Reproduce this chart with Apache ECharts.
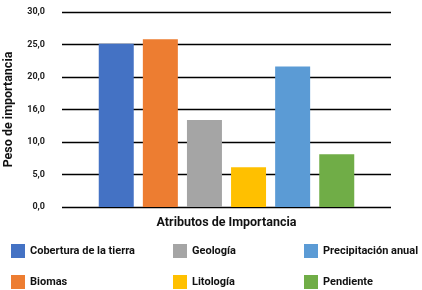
<!DOCTYPE html>
<html lang="es">
<head>
  <meta charset="UTF-8">
  <title>Atributos de Importancia</title>
  <script src="https://cdn.jsdelivr.net/npm/echarts@6/dist/echarts.min.js"></script>
  <style>
    body { margin: 0; background: #fff; }
    #chart { width: 422px; height: 290px; }
  </style>
</head>
<body>
  <div id="chart"></div>
  <script>
    // datos
    var atributos = ['Cobertura de la tierra', 'Biomas', 'Geología', 'Litología', 'Precipitación anual', 'Pendiente']
    var pesos = [25.1, 25.8, 13.4, 6.1, 21.6, 8.1]
    var colores = ['#4472C4', '#ED7D31', '#A5A5A5', '#FFC000', '#5B9BD5', '#70AD47']
    var etiquetasY = ['0,0', '5,0', '10,0', '16,0', '20,0', '25,0', '30,0']

    var fuente = "Roboto, sans-serif"
    var mCharts = echarts.init(document.getElementById('chart'))

    var series = atributos.map(function (nombre, i) {
      return {
        type: 'bar',
        name: nombre,
        data: [pesos[i]],
        barWidth: 35,
        barGap: '26%',
        itemStyle: { color: colores[i] }
      }
    })

    function leyenda(datos, left) {
      return {
        data: datos,
        orient: 'vertical',
        left: left,
        top: 244,
        padding: 0,
        icon: 'rect',
        itemWidth: 14,
        itemHeight: 14,
        itemGap: 17,
        selectedMode: false,
        textStyle: { fontFamily: fuente, fontWeight: 'bold', fontSize: 11, color: '#111' }
      }
    }

    var option = {
      animation: false,
      grid: { left: 62, right: 31, top: 12, bottom: 83, containLabel: false, outerBoundsMode: 'none' },
      legend: [
        leyenda([atributos[0], atributos[1]], 11),
        leyenda([atributos[2], atributos[3]], 173),
        leyenda([atributos[4], atributos[5]], 304)
      ],
      xAxis: {
        type: 'category',
        data: [''],
        name: 'Atributos de Importancia',
        nameLocation: 'middle',
        nameGap: 9,
        nameTextStyle: { fontFamily: fuente, fontWeight: 'bold', fontSize: 12.5, color: '#111' },
        axisLine: { show: false },
        axisTick: { show: false },
        axisLabel: { show: false }
      },
      yAxis: {
        type: 'value',
        min: 0,
        max: 30,
        interval: 5,
        name: 'Peso de importancia',
        nameLocation: 'middle',
        nameGap: 47,
        nameTextStyle: { fontFamily: fuente, fontWeight: 'bold', fontSize: 12.5, color: '#111' },
        axisLabel: {
          margin: 17,
          fontFamily: fuente,
          fontWeight: 'bold',
          fontSize: 9,
          color: '#222',
          formatter: function (v) { return etiquetasY[Math.round(v / 5)] }
        },
        splitLine: { lineStyle: { color: '#000', width: 1.3 } }
      },
      series: series
    }
    mCharts.setOption(option)
  </script>
</body>
</html>
